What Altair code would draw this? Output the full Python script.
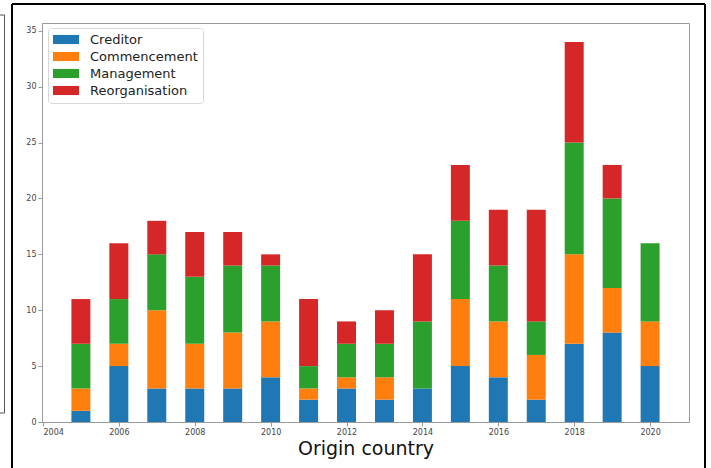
import altair as alt
import pandas as pd

# Yearly counts per proceeding type
years = list(range(2005, 2021))
creditor = [1, 5, 3, 3, 3, 4, 2, 3, 2, 3, 5, 4, 2, 7, 8, 5]
commencement = [2, 2, 7, 4, 5, 5, 1, 1, 2, 0, 6, 5, 4, 8, 4, 4]
management = [4, 4, 5, 6, 6, 5, 2, 3, 3, 6, 7, 5, 3, 10, 8, 7]
reorganisation = [4, 5, 3, 4, 3, 1, 6, 2, 3, 6, 5, 5, 10, 9, 3, 0]

series = ["Creditor", "Commencement", "Management", "Reorganisation"]
colors = ["#1f77b4", "#ff7f0e", "#2ca02c", "#d62728"]
x_ticks = list(range(2004, 2021, 2))
y_ticks = list(range(0, 36, 5))

rows = []
for i, (name, vals) in enumerate(zip(series, [creditor, commencement, management, reorganisation])):
    for yr, v in zip(years, vals):
        rows.append({"year": yr, "type": name, "order": i, "count": v})
df = pd.DataFrame(rows)

FONT = "DejaVu Sans"
SPINE = "#9a9a9a"

bars = (
    alt.Chart(df)
    .transform_stack(
        stack="count",
        groupby=["year"],
        as_=["y0", "y1"],
        sort=[alt.SortField("order", order="ascending")],
    )
    .transform_calculate(xa="datum.year - 0.25", xb="datum.year + 0.25")
    .mark_bar()
    .encode(
        x=alt.X(
            "xa:Q",
            scale=alt.Scale(domain=[2003.975, 2021.025], nice=False, zero=False),
            axis=alt.Axis(
                values=x_ticks,
                format="d",
                title="Origin country",
                titleFont=FONT,
                titleFontSize=19,
                titleFontWeight="normal",
                titleColor="#111",
                titlePadding=3,
            ),
        ),
        x2="xb:Q",
        y=alt.Y(
            "y0:Q",
            scale=alt.Scale(domain=[0, 35.7], nice=False),
            axis=alt.Axis(values=y_ticks, title=None),
        ),
        y2="y1:Q",
        color=alt.Color(
            "type:N",
            scale=alt.Scale(domain=series, range=colors),
            legend=alt.Legend(
                title=None,
                orient="none",
                legendX=6,
                legendY=5,
                # wide flat patch, drawn to the right of the symbol's anchor
                symbolType="M-1,-0.7L3,-0.7L3,0.7L-1,0.7Z",
                symbolSize=169,
                symbolStrokeWidth=0,
                symbolOpacity=1,
                labelFont=FONT,
                labelFontSize=13,
                labelColor="#222",
                labelOffset=24,
                padding=5,
                rowPadding=3,
                strokeColor="#d8d8d8",
                fillColor="white",
                cornerRadius=3,
            ),
        ),
    )
)

# Outer frame lines around the figure
blank = alt.Chart(alt.Data(values=[{}]))
frame_top = blank.mark_rule(color="black", strokeWidth=2).encode(
    x=alt.value(-30), x2=alt.value(663), y=alt.value(-19)
)
frame_left = blank.mark_rule(color="black", strokeWidth=2).encode(
    x=alt.value(-30), y=alt.value(-19), y2=alt.value(445)
)
frame_right = blank.mark_rule(color="black", strokeWidth=2).encode(
    x=alt.value(663), y=alt.value(-19), y2=alt.value(445)
)
side_v = blank.mark_rule(color="#555", strokeWidth=1).encode(
    x=alt.value(-37.5), y=alt.value(-8), y2=alt.value(390)
)
side_t = blank.mark_rule(color="#555", strokeWidth=1).encode(
    x=alt.value(-42), x2=alt.value(-37.5), y=alt.value(-8)
)
side_b = blank.mark_rule(color="#555", strokeWidth=1).encode(
    x=alt.value(-42), x2=alt.value(-37.5), y=alt.value(390)
)

chart = (
    alt.layer(bars, frame_top, frame_left, frame_right, side_v, side_t, side_b)
    .properties(
        width=647,
        height=399,
        autosize=alt.AutoSizeParams(type="none"),
        padding={"left": 42, "top": 23, "right": 22, "bottom": 46},
        background="white",
    )
    .configure_view(stroke=SPINE, strokeWidth=1)
    .configure_axis(
        grid=False,
        domainColor=SPINE,
        tickColor=SPINE,
        tickSize=4,
        labelFont=FONT,
        labelFontSize=8,
        labelColor="#444",
        labelPadding=2,
    )
)

chart.save("out.html", embed_options={"renderer": "svg", "actions": False})
